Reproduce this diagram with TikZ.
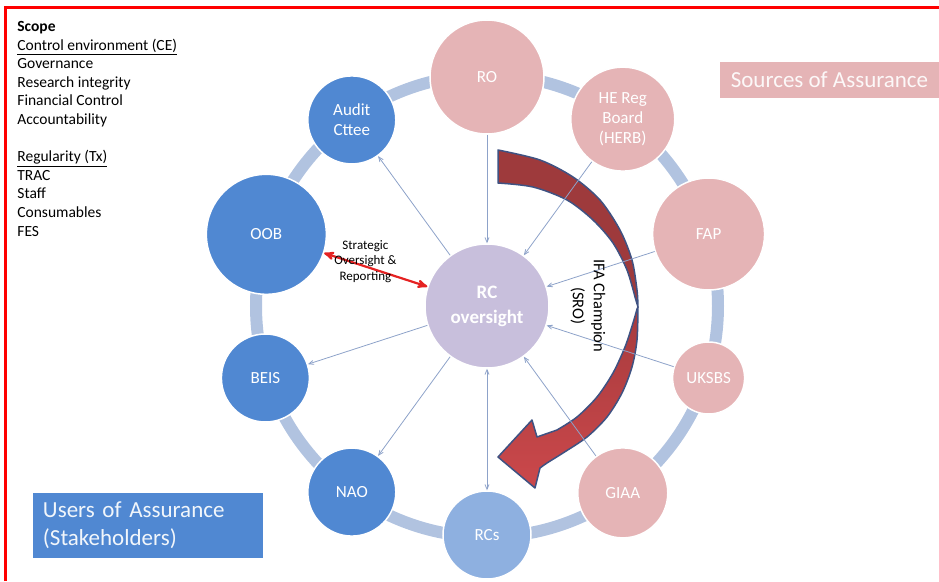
\documentclass[tikz,border=0pt]{standalone}
\usepackage{fontspec}
\setmainfont{Carlito}
\usepackage{xcolor}
\usepackage{tikz}
\usetikzlibrary{arrows}

\definecolor{userblue}{HTML}{5088D2}
\definecolor{rcsblue}{HTML}{8EB0E0}
\definecolor{sourcepink}{HTML}{E5B4B6}
\definecolor{rclilac}{HTML}{C8BFDC}
\definecolor{ringblue}{HTML}{B1C3E0}
\definecolor{linkblue}{HTML}{8DA2C9}
\definecolor{champdark}{HTML}{9E3A3C}
\definecolor{champred}{HTML}{CB484B}
\definecolor{champline}{HTML}{3F5282}
\definecolor{strategicred}{HTML}{E52222}

\begin{document}
\begin{tikzpicture}[x=1pt,y=1pt,>=stealth',thick,
                    main node/.style={circle,draw=white,line width=1.5pt,inner sep=0pt,
                      align=center,text=white,font=\fontsize{17}{20}\selectfont},
                    user node/.style={main node,fill=userblue},
                    source node/.style={main node,fill=sourcepink},
                    link/.style={->,>=angle 45,draw=linkblue,line width=0.8pt},
                    strategic/.style={<->,>=stealth',draw=strategicred,line width=2.2pt},
                    champion/.style={draw=champline,line width=1.5pt,line join=round}]

  \useasboundingbox (-487,-275) rectangle (452,306);
  \draw[red,line width=3pt] (-481,-275) -- (-481,298.5) -- (452,298.5);

  \draw[ringblue,line width=12pt] (0,0) circle (231);

  \filldraw[champion,fill=champdark]
    plot[smooth] coordinates {(11,156) (53,146) (86,129) (113,106) (133,76) (145,46) (150,16) (151,-1)}
    -- plot[smooth] coordinates {(148,9) (140,36) (126,63) (106,86) (80,106) (46,119) (11,123)}
    -- cycle;
  \draw[champion,top color=champred!82!black,bottom color=champred]
    plot[smooth] coordinates {(151,-1) (150,-34) (145,-61) (135,-87) (120,-111) (100,-131) (76,-147) (60,-157) (53,-162)}
    -- (48,-182) -- (11,-151) -- (45,-114) -- (50,-131)
    -- plot[smooth] coordinates {(70,-124) (90,-111) (110,-91) (126,-67) (138,-41) (146,-17) (150,-3)}
    -- cycle;

  \node[main node,fill=rclilac,minimum size=124pt,
        font=\bfseries\fontsize{19}{25}\selectfont] (rc) at (0,0) {RC\\oversight};

  \node[source node,minimum size=114pt] (ro) at (90:229) {RO};
  \node[source node,minimum size=104pt] (herb) at (54:231) {HE Reg\\Board\\(HERB)};
  \node[source node,minimum size=112pt] (fap) at (18:233) {FAP};
  \node[source node,minimum size=72pt] (uksbs) at (-18:233) {UKSBS};
  \node[source node,minimum size=90pt] (giaa) at (-54:231) {GIAA};
  \node[main node,fill=rcsblue,minimum size=88pt] (rcs) at (-90:229) {RCs};
  \node[user node,minimum size=88pt] (nao) at (-126:230) {NAO};
  \node[user node,minimum size=88pt] (beis) at (-162:233) {BEIS};
  \node[user node,minimum size=120pt] (oob) at (162:232) {OOB};
  \node[user node,minimum size=88pt] (audit) at (126:230) {Audit\\Cttee};

  \path[link]
    (ro) edge (rc)
    (herb) edge (rc)
    (fap) edge (rc)
    (uksbs) edge (rc)
    (giaa) edge (rc)
    (rc) edge [<->] (rcs)
    (rc) edge (nao)
    (rc) edge (beis)
    (rc) edge (audit);

  \path[strategic,every node/.style={font=\fontsize{13}{15.5}\selectfont,align=center}]
    (rc) edge node [pos=0.6,yshift=5pt] {Strategic\\Oversight \&\\Reporting} (oob);

  \node[rotate=-90,align=center,font=\fontsize{16.5}{21}\selectfont] (ifa) at (101,0)
    {IFA Champion\\(SRO)};

  \node[fill=sourcepink,text=white!90!sourcepink,font=\fontsize{23}{27}\selectfont,
        minimum width=219pt,minimum height=36pt,inner sep=0pt] (sources) at (342.5,226)
    {Sources of Assurance};
  \node[fill=userblue,text=white!92!userblue,font=\fontsize{23}{28}\selectfont,
        text width=210pt,inner xsep=10pt,inner ysep=0pt,minimum height=65pt,align=left]
    (users) at (-339,-219.5) {Users of Assurance\\(Stakeholders)};

  \node[anchor=north west,align=left,inner sep=0pt,font=\fontsize{15.5}{18.6}\selectfont]
    (scope) at (-470,285)
    {\textbf{Scope}\\\underline{Control environment (CE)}\\Governance\\Research integrity\\
     Financial Control\\Accountability\\[18.6pt]\underline{Regularity (Tx)}\\TRAC\\Staff\\
     Consumables\\FES};
\end{tikzpicture}
\end{document}
